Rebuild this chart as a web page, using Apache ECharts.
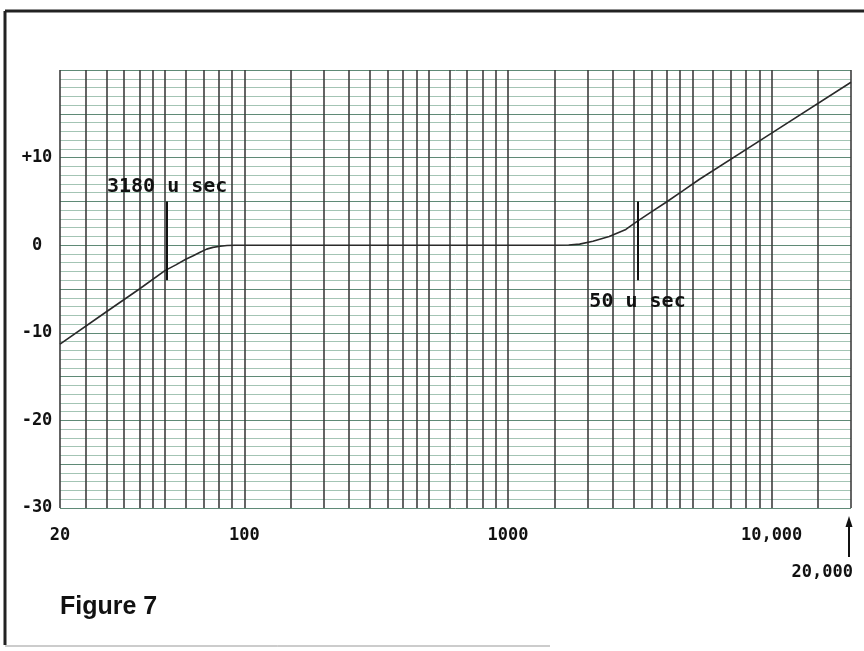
<!DOCTYPE html>
<html><head><meta charset="utf-8">
<script src="https://cdn.jsdelivr.net/npm/echarts@6/dist/echarts.min.js"></script>
<style>html,body{margin:0;padding:0;background:#fff}#c{width:864px;height:651px}</style>
</head><body><div id="c"></div>
<script>
// Response curve (frequency in Hz, level in dB)
const freqs = [20, 30, 40, 50, 55, 60, 64, 68, 72, 76, 81, 86, 92, 150, 300, 600, 1000, 1500, 1700, 1870, 2100, 2420, 2800, 3080, 3500, 3980, 4600, 5310, 10000, 20000];
const gains = [-11.3, -7.6, -5.0, -2.9, -2.25, -1.6, -1.2, -0.8, -0.45, -0.25, -0.12, -0.04, 0, 0, 0, 0, 0, 0, 0.03, 0.12, 0.45, 1.0, 1.8, 2.7, 3.8, 4.9, 6.2, 7.5, 12.8, 18.6];

// Log-paper vertical rulings
const gridFreqs = [20, 25, 30, 35, 40, 45, 50, 60, 70, 80, 90, 100, 150, 200, 250, 300, 350, 400, 450, 500, 600, 700, 800, 900, 1000, 1500, 2000, 2500, 3000, 3500, 4000, 4500, 5000, 6000, 7000, 8000, 9000, 10000, 15000, 20000];

// Time-constant markers
const markerFreqs = [51, 3100];
const markerTop = [5, 5];
const markerBottom = [-4, -4];
const markerLabels = ['3180 u sec', '50 u sec'];

// Tick labels
const xTickValues = [20, 100, 1000, 10000];
const xTickLabels = ['20', '100', '1000', '10,000'];
const yTickValues = [-30, -20, -10, 0, 10];
const yTickLabels = ['-30', '-20', '-10', '0', '+10'];
const endFreq = 20000;
const endLabel = '20,000';
const figureTitle = 'Figure 7';

const mono = '"DejaVu Sans Mono", monospace';
const chart = echarts.init(document.getElementById('c'), null, {renderer: 'canvas'});

const option = {
  animation: false,
  backgroundColor: '#fff',
  grid: {left: 60, right: 13, top: 70, bottom: 143},
  xAxis: {
    type: 'log', logBase: 10, min: 20, max: 20000,
    axisLine: {show: false}, axisTick: {show: false}, splitLine: {show: false},
    axisLabel: {
      interval: 0, hideOverlap: false, showMinLabel: true, showMaxLabel: true,
      margin: 19, fontFamily: mono, fontSize: 17, fontWeight: 'bold', color: '#111',
      formatter: function (v) {
        const r = Math.round(v);
        const i = xTickValues.indexOf(r);
        return i >= 0 ? xTickLabels[i] : '';
      }
    }
  },
  yAxis: {
    type: 'value', min: -30, max: 20, interval: 5,
    axisLine: {show: false}, axisTick: {show: false},
    splitLine: {show: true, lineStyle: {color: '#5f8a76', width: 1}},
    minorTick: {show: false, splitNumber: 5},
    minorSplitLine: {show: true, lineStyle: {color: '#a3c4b4', width: 1}},
    axisLabel: {
      align: 'center', margin: 23, fontFamily: mono, fontSize: 17, fontWeight: 'bold', color: '#111',
      formatter: function (v) {
        const i = yTickValues.indexOf(Math.round(v));
        return i >= 0 ? yTickLabels[i] : '';
      }
    }
  },
  series: [
    {
      type: 'line', z: 3,
      data: freqs.map((f, i) => [f, gains[i]]),
      showSymbol: false, smooth: false,
      lineStyle: {color: '#2a2a2a', width: 1.6},
      markLine: {
        z: 1, silent: true, symbol: ['none', 'none'], animation: false,
        label: {show: false},
        lineStyle: {color: '#3e3e3e', width: 1.6, type: 'solid'},
        data: gridFreqs.map(f => ({xAxis: f}))
      }
    },
    {
      type: 'scatter', z: 4, symbolSize: 0,
      itemStyle: {opacity: 1, color: '#111'},
      data: markerFreqs.map((f, i) => ({
        value: i === 0 ? [f, markerTop[i]] : [f, markerBottom[i]],
        label: {position: i === 0 ? 'top' : 'bottom', distance: i === 0 ? 5 : 12}
      })),
      label: {
        show: true, fontFamily: mono, fontSize: 20, fontWeight: 'bold', color: '#111',
        formatter: p => markerLabels[p.dataIndex]
      },
      markLine: {
        silent: true, symbol: ['none', 'none'], animation: false,
        label: {show: false},
        lineStyle: {color: '#111', width: 2, type: 'solid', opacity: 1},
        data: markerFreqs.map((f, i) => [{coord: [f, markerTop[i]]}, {coord: [f, markerBottom[i]]}])
      }
    }
  ]
};
chart.setOption(option);

const ex = chart.convertToPixel({xAxisIndex: 0}, endFreq);
const by = chart.convertToPixel({yAxisIndex: 0}, -30);
chart.setOption({
  graphic: [
    {type: 'line', shape: {x1: 5, y1: 11, x2: 864, y2: 11}, style: {stroke: '#222', lineWidth: 3}},
    {type: 'line', shape: {x1: 5, y1: 11, x2: 5, y2: 645}, style: {stroke: '#222', lineWidth: 3}},
    {type: 'line', shape: {x1: 5, y1: 646, x2: 550, y2: 646}, style: {stroke: '#999', lineWidth: 1}},
    {type: 'line', shape: {x1: ex - 2, y1: by + 16, x2: ex - 2, y2: by + 49}, style: {stroke: '#111', lineWidth: 2}},
    {type: 'polygon', shape: {points: [[ex - 2, by + 8], [ex - 5.5, by + 19], [ex + 1.5, by + 19]]}, style: {fill: '#111'}},
    {type: 'text', x: ex + 2, y: by + 65, style: {text: endLabel, font: 'bold 17px ' + mono, fill: '#111', align: 'right', verticalAlign: 'middle'}},
    {type: 'text', x: 60, y: 607, style: {text: figureTitle, font: 'bold 25px "Liberation Sans", Arial, sans-serif', fill: '#111', align: 'left', verticalAlign: 'middle'}}
  ]
});
</script>
</body></html>
